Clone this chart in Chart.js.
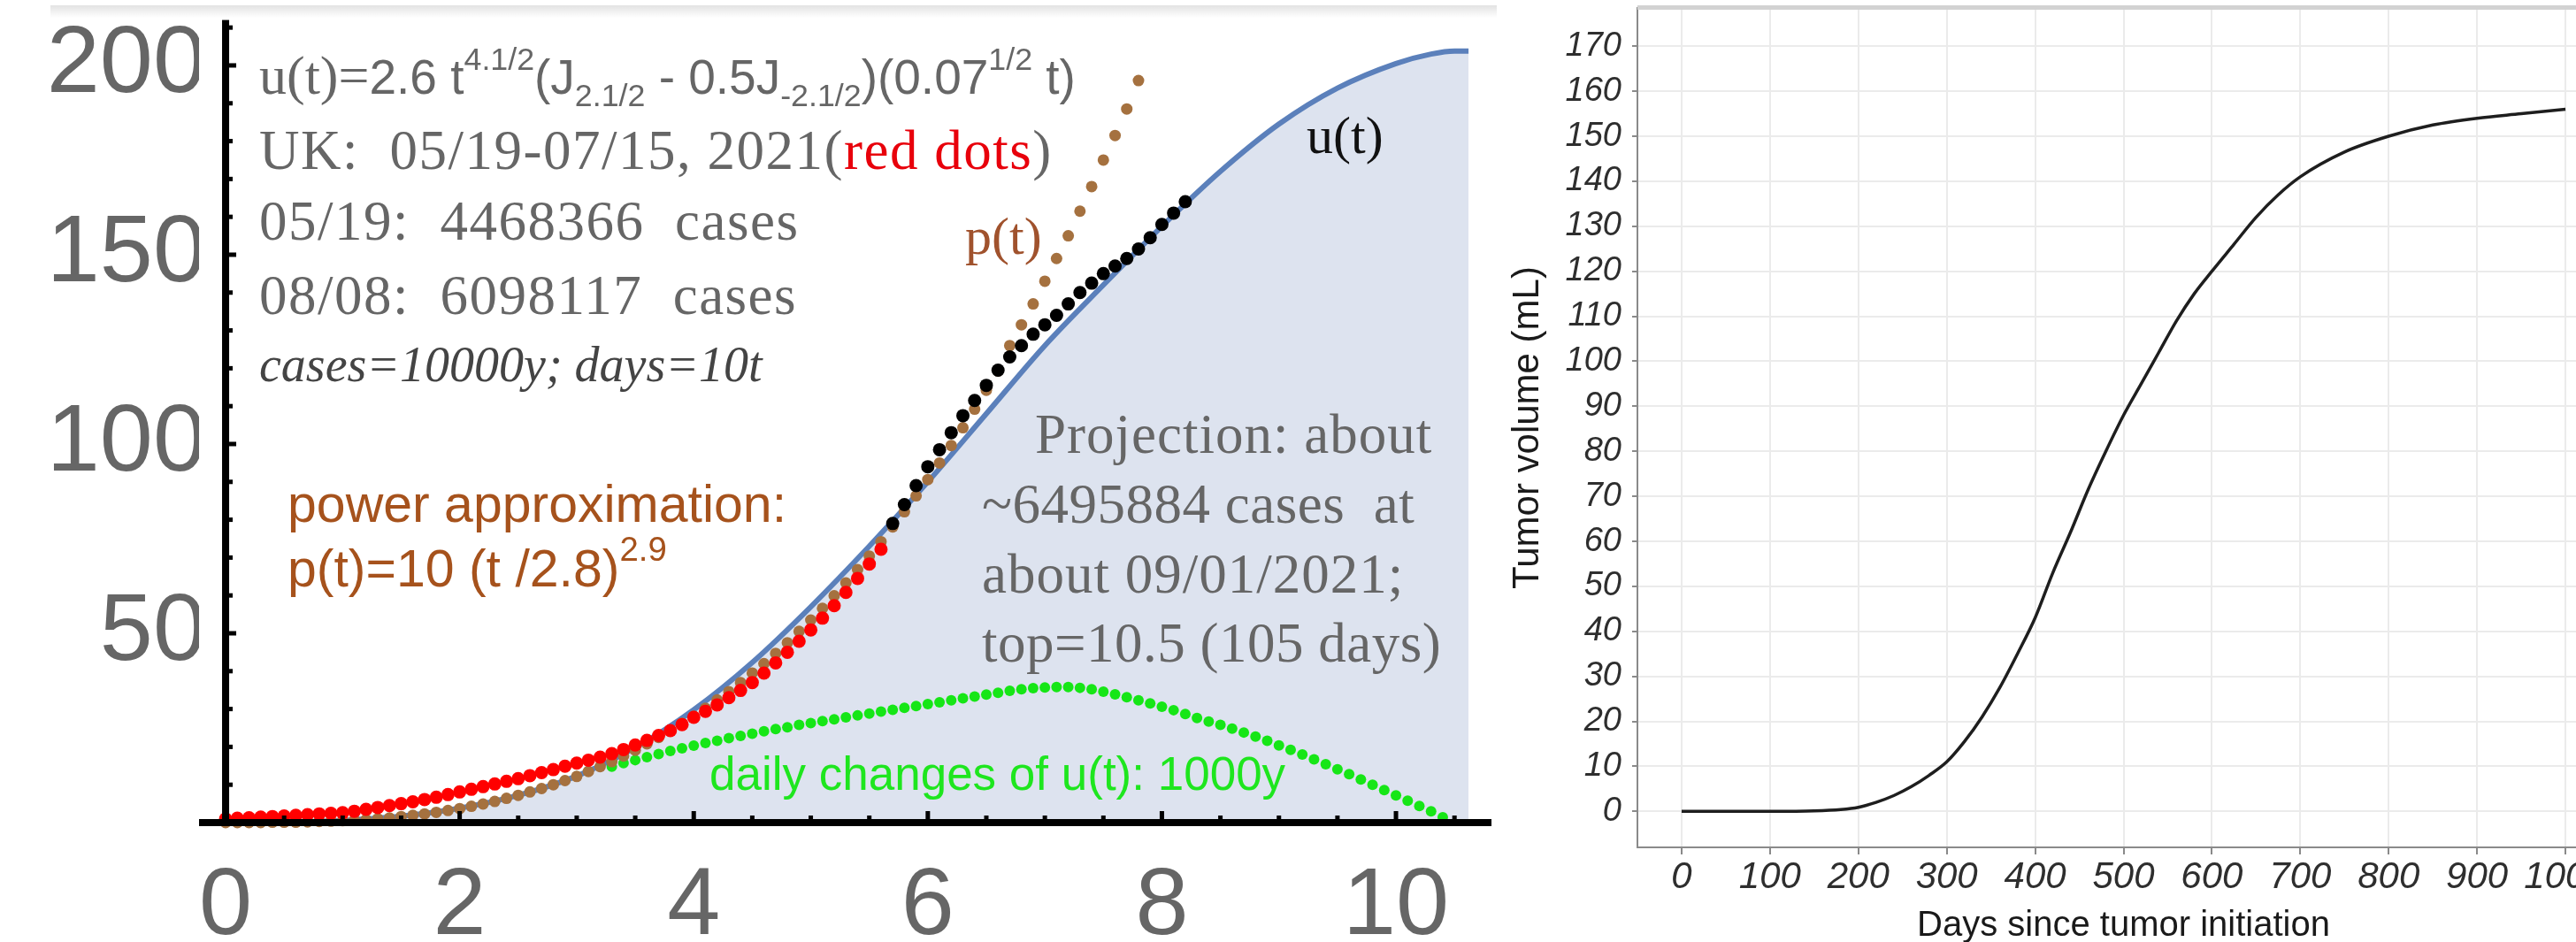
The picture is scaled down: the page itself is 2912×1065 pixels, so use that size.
<!DOCTYPE html>
<html lang="en">
<head>
<meta charset="UTF-8">
<title>UK cases u(t) projection / tumor volume</title>
<script src="https://cdn.jsdelivr.net/npm/chart.js"></script>
<style>
  html, body { margin: 0; padding: 0; background: #fff; }
  body { width: 2912px; height: 1065px; overflow: hidden; position: relative; }
  #leftChart { position: absolute; left: 0; top: 0; }
  #rightChart { position: absolute; left: 1690px; top: 0; }
  #topBand { position: absolute; left: 57px; top: 6px; width: 1635px; height: 14px;
             background: linear-gradient(#e2e2e2, #ffffff); }
  .note { position: absolute; white-space: pre; line-height: 1; color: #666; }
  .serif { font-family: 'Liberation Serif', 'Times New Roman', serif; }
  .sans { font-family: 'Liberation Sans', Arial, sans-serif; }
  .wide { letter-spacing: 1.5px; }
  sup, sub { font-size: 0.65em; line-height: 0; position: relative; vertical-align: baseline; }
  sup { top: -0.75em; }
  sub { top: 0.4em; }
</style>
</head>
<body>
<div id="topBand"></div>
<canvas id="leftChart" width="1700" height="1065"></canvas>
<canvas id="rightChart" width="1300" height="1080"></canvas>

<!-- notes on the left chart -->
<div class="note serif" style="left:293px; top:54px; font-size:62px;">u(t)=<span class="sans" style="font-size:55px;">2.6 t<sup>4.1/2</sup>(J<sub>2.1/2</sub> - 0.5J<sub>-2.1/2</sub>)(0.07<sup>1/2</sup> t)</span></div>
<div class="note serif wide" style="left:293px; top:139px; font-size:63px;">UK:  05/19-07/15, 2021(<span style="color:#e8000b;">red dots</span>)</div>
<div class="note serif wide" style="left:293px; top:219px; font-size:63px;">05/19:  4468366  cases</div>
<div class="note serif wide" style="left:293px; top:303px; font-size:63px;">08/08:  6098117  cases</div>
<div class="note serif" style="left:293px; top:384px; font-size:56px; font-style:italic; color:#444;">cases=10000y; days=10t</div>
<div class="note serif" style="left:1091px; top:237px; font-size:60px; color:#a0522d;">p(t)</div>
<div class="note serif" style="left:1477px; top:123px; font-size:60px; color:#111;">u(t)</div>
<div class="note sans" style="left:325px; top:541px; font-size:59px; color:#a6521c;">power approximation:</div>
<div class="note sans" style="left:325px; top:614px; font-size:59px; color:#a6521c;">p(t)=10 (t /2.8)<sup>2.9</sup></div>
<div class="note sans" style="left:802px; top:848px; font-size:53px; color:#1ee61e;">daily changes of u(t): 1000y</div>
<div class="note serif" style="left:1170px; top:460px; font-size:63px; letter-spacing:1px;">Projection: about</div>
<div class="note serif" style="left:1110px; top:539px; font-size:63px; letter-spacing:0.5px;">~6495884 cases  at</div>
<div class="note serif" style="left:1110px; top:618px; font-size:63px; letter-spacing:1px;">about 09/01/2021;</div>
<div class="note serif" style="left:1110px; top:696px; font-size:63px; letter-spacing:0.5px;">top=10.5 (105 days)</div>

<script>
// ---- left chart: UK cases (y = cases/10000, t = days/10) ----
// u(t) curve
const uT   = [0, 0.5, 1, 1.5, 2, 2.5, 3, 3.5, 4, 4.5, 5, 5.5, 6, 6.5, 7, 7.5, 8, 8.5, 9, 9.5, 10, 10.3, 10.5, 10.62];
const uVal = [0, 0.1, 0.6, 1.7, 3.8, 7.2, 12.3, 19.8, 29.8, 42.3, 57, 73, 90, 108, 126, 142, 157.5, 172, 184.5, 194, 200.5, 203, 203.8, 203.8];

// red dots: UK data 05/19 - 07/15 (one per day, first day = 0)
const redFirstDay = 0;
const redCases = [1.0, 1.15, 1.3, 1.45, 1.6, 1.75, 1.9, 2.1, 2.3, 2.45,
                  2.6, 3.0, 3.5, 4.0, 4.5, 5.0, 5.5, 6.1, 6.7, 7.4,
                  8.1, 8.8, 9.5, 10.2, 10.9, 11.6, 12.4, 13.2, 14.0, 14.9,
                  15.7, 16.5, 17.3, 18.2, 19.3, 20.5, 21.7, 23.0, 24.3, 25.9,
                  27.8, 29.4, 31.1, 33.0, 34.9, 37.0, 39.5, 42.2, 45.0, 47.9,
                  50.9, 54.0, 57.3, 60.8, 64.5, 68.3, 72.2];

// black dots: later data up to 08/08
const blackFirstDay = 57;
const blackCases = [79, 84, 89, 94, 98.5, 103, 107.5, 111.5, 115.5, 119.5,
                    123, 126, 129, 131.5, 134, 137, 140, 142.5, 145, 147,
                    149, 151.5, 154.5, 158, 161, 164];

// brown dots: power approximation p(t)
const brownFirstDay = 0;
const brownVal = [0, 0, 0, 0, 0.1, 0.1, 0.1, 0.2, 0.3, 0.4,
                  0.5, 0.6, 0.8, 1.0, 1.2, 1.6, 1.9, 2.3, 2.7, 3.2,
                  3.7, 4.3, 4.9, 5.6, 6.4, 7.2, 8.1, 9.0, 10.0, 11.1,
                  12.2, 13.5, 14.8, 16.1, 17.6, 19.1, 20.8, 22.5, 24.3, 26.2,
                  28.1, 30.2, 32.4, 34.6, 37.0, 39.5, 42.0, 44.7, 47.5, 50.5,
                  53.5, 56.6, 59.9, 63.3, 66.8, 70.4, 74.2, 78.1, 82.1, 86.3,
                  90.6, 95.0, 99.6, 104.3, 109.2, 114.2, 119.3, 126, 131.5, 137,
                  143, 149, 155, 161.5, 168, 175, 181.5, 188.5, 196];

// green dots: daily changes of u(t), 1000y
const greenFirstDay = 33;
const greenVal = [14.8, 15.7, 16.5, 17.3, 18.1, 18.9, 19.6, 20.3, 21.0, 21.6,
                  22.3, 22.9, 23.5, 24.1, 24.7, 25.2, 25.8, 26.3, 26.8, 27.3,
                  27.8, 28.3, 28.8, 29.3, 29.8, 30.3, 30.8, 31.3, 31.8, 32.3,
                  32.8, 33.3, 33.8, 34.3, 34.8, 35.2, 35.5, 35.7, 35.8, 35.8,
                  35.6, 35.2, 34.6, 33.9, 33.1, 32.3, 31.5, 30.6, 29.7, 28.7,
                  27.6, 26.7, 25.8, 24.8, 23.8, 22.7, 21.6, 20.4, 19.2, 18.0,
                  16.7, 15.4, 14.1, 12.8, 11.4, 10.0, 8.6, 7.2, 5.8, 4.4,
                  3.0, 1.4];

const xMajorTicks = [0, 2, 4, 6, 8, 10];
const xMinorTicks = [0.5, 1, 1.5, 2, 2.5, 3, 3.5, 4, 4.5, 5, 5.5, 6, 6.5, 7, 7.5, 8, 8.5, 9, 9.5, 10, 10.5];
const yMajorTicks = [50, 100, 150, 200];
const yMinorTicks = [10, 20, 30, 40, 50, 60, 70, 80, 90, 100, 110, 120, 130, 140, 150, 160, 170, 180, 190, 200, 210];

// ---- right chart: tumor volume ----
const tumorDays = [0, 50, 100, 150, 180, 200, 220, 240, 260, 280, 300, 320, 340, 360, 380, 400, 420, 440, 460, 480,
                   500, 520, 540, 560, 580, 600, 625, 650, 675, 700, 750, 800, 850, 900, 950, 1000];
const tumorVol  = [0, 0, 0, 0.1, 0.4, 0.9, 2, 3.5, 5.5, 8, 11, 15.5, 21, 27.5, 35, 43, 53, 62, 71.5, 80,
                   88, 95, 102, 109, 115, 120, 126, 132, 137, 141, 146.5, 150, 152.5, 154, 155, 156];
const dayTicks = [0, 100, 200, 300, 400, 500, 600, 700, 800, 900, 1000];
const volTicks = [0, 10, 20, 30, 40, 50, 60, 70, 80, 90, 100, 110, 120, 130, 140, 150, 160, 170];

const SANS = "'Liberation Sans', Arial, sans-serif";

const pts = (xs, ys) => xs.map((x, i) => ({x: x, y: ys[i]}));
// days -> t (days = 10t)
const daily = (firstDay, vals) => vals.map((v, i) => ({x: (firstDay + i) / 10, y: v}));

// keep the chart area where I put it, labels may hang over the edges
function fixSize(prop, size) {
  return s => {
    s[prop] = size;
    s.paddingTop = 0; s.paddingBottom = 0; s.paddingLeft = 0; s.paddingRight = 0;
  };
}

// thick Mathematica style axes with inward ticks
const leftAxes = {
  id: 'leftAxes',
  afterDatasetsDraw(chart) {
    const {ctx} = chart;
    const x = chart.scales.x, y = chart.scales.y;
    const ox = x.getPixelForValue(0);
    const oy = y.getPixelForValue(0);
    ctx.save();
    ctx.fillStyle = '#000';
    ctx.fillRect(ox - 4, y.top, 8, oy - y.top + 4);
    ctx.fillRect(x.left, oy - 4, x.right - x.left, 8);
    xMinorTicks.forEach(v => {
      const px = x.getPixelForValue(v);
      const len = xMajorTicks.includes(v) ? 9 : 4;
      ctx.fillRect(px - 2.5, oy - 4 - len, 5, len);
    });
    yMinorTicks.forEach(v => {
      const py = y.getPixelForValue(v);
      const len = yMajorTicks.includes(v) ? 8 : 4;
      ctx.fillRect(ox + 4, py - 2.5, len, 5);
    });
    ctx.restore();
  }
};

new Chart(document.getElementById('leftChart'), {
  type: 'scatter',
  data: {
    datasets: [
      { label: '07/16-08/08', data: daily(blackFirstDay, blackCases), backgroundColor: '#000',
        borderWidth: 0, pointRadius: 7.5, clip: false, order: 1 },
      { label: 'UK 05/19-07/15', data: daily(redFirstDay, redCases), backgroundColor: '#ff0000',
        borderWidth: 0, pointRadius: 7.5, clip: false, order: 2 },
      { label: 'p(t)', data: daily(brownFirstDay, brownVal), backgroundColor: '#a5713f',
        borderWidth: 0, pointRadius: 6.5, clip: false, order: 3 },
      { label: 'daily changes', data: daily(greenFirstDay, greenVal), backgroundColor: '#16e616',
        borderWidth: 0, pointRadius: 6, clip: false, order: 4 },
      { type: 'line', label: 'u(t)', data: pts(uT, uVal), borderColor: '#5b80bb', borderWidth: 6,
        backgroundColor: '#dde3ef', fill: 'origin', pointRadius: 0, showLine: true,
        cubicInterpolationMode: 'monotone', order: 5 }
    ]
  },
  options: {
    responsive: false,
    animation: false,
    events: [],
    layout: { padding: { top: 22.6, right: 14, left: 0, bottom: 0 } },
    plugins: { legend: { display: false }, tooltip: { enabled: false } },
    scales: {
      x: {
        type: 'linear', min: -0.227, max: 10.816,
        afterFit: fixSize('height', 135),
        afterBuildTicks: s => { s.ticks = xMajorTicks.map(v => ({value: v})); },
        grid: { display: false, drawTicks: false },
        border: { display: false },
        ticks: { padding: 31, color: '#666', font: { family: SANS, size: 108 },
                 maxRotation: 0, autoSkip: false, callback: v => String(v) }
      },
      y: {
        min: 0, max: 212,
        afterFit: fixSize('width', 225),
        afterBuildTicks: s => { s.ticks = yMajorTicks.map(v => ({value: v})); },
        grid: { display: false, drawTicks: false },
        border: { display: false },
        ticks: { padding: -8, color: '#666', font: { family: SANS, size: 108 },
                 autoSkip: false, callback: v => String(v) }
      }
    }
  },
  plugins: [leftAxes]
});

// grey strip along the top of the right panel
const topStrip = {
  id: 'topStrip',
  afterDraw(chart) {
    const {ctx, chartArea} = chart;
    ctx.save();
    ctx.fillStyle = '#d2d2d2';
    ctx.fillRect(chartArea.left, chartArea.top - 3, chart.width - chartArea.left, 5);
    ctx.restore();
  }
};

new Chart(document.getElementById('rightChart'), {
  type: 'line',
  data: {
    datasets: [{
      label: 'Tumor volume', data: pts(tumorDays, tumorVol),
      borderColor: '#1e1e1e', borderWidth: 3.5, pointRadius: 0, fill: false,
      cubicInterpolationMode: 'monotone'
    }]
  },
  options: {
    responsive: false,
    animation: false,
    events: [],
    layout: { padding: { top: 9, right: 40, left: 0, bottom: 0 } },
    plugins: { legend: { display: false }, tooltip: { enabled: false } },
    scales: {
      x: {
        type: 'linear', min: -50, max: 1050,
        afterFit: fixSize('height', 122),
        afterBuildTicks: s => { s.ticks = dayTicks.map(v => ({value: v})); },
        grid: { color: '#ebebeb', lineWidth: 2, tickLength: 8, tickColor: '#8a8a8a', tickWidth: 2 },
        border: { color: '#8a8a8a', width: 2 },
        ticks: { padding: 1, color: '#2e2e2e', font: { family: SANS, size: 42, style: 'italic' },
                 maxRotation: 0, autoSkip: false, callback: v => String(v) },
        title: { display: true, text: 'Days since tumor initiation', color: '#1a1a1a',
                 font: { family: SANS, size: 40 }, padding: { top: 0, bottom: 9 } }
      },
      y: {
        min: -8, max: 178.5,
        afterFit: fixSize('width', 161),
        afterBuildTicks: s => { s.ticks = volTicks.map(v => ({value: v})); },
        grid: { color: '#ebebeb', lineWidth: 2, tickLength: 6, tickColor: '#8a8a8a', tickWidth: 2 },
        border: { color: '#8a8a8a', width: 2 },
        ticks: { padding: 12, color: '#2e2e2e', font: { family: SANS, size: 38, style: 'italic' },
                 autoSkip: false, callback: v => String(v) },
        title: { display: true, text: 'Tumor volume (mL)', color: '#1a1a1a',
                 font: { family: SANS, size: 42 }, padding: { top: 12, bottom: 0 } }
      }
    }
  },
  plugins: [topStrip]
});
</script>
</body>
</html>
